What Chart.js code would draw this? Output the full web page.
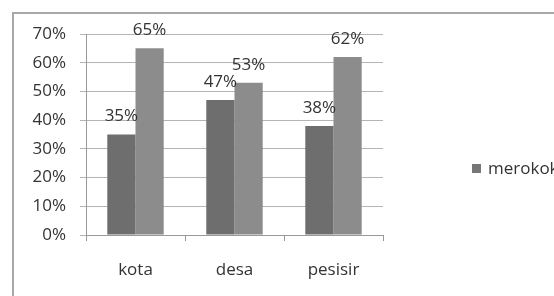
<!DOCTYPE html>
<html>
<head>
<meta charset="utf-8">
<script src="https://cdn.jsdelivr.net/npm/chart.js@4"></script>
<style>
    html, body { margin: 0; padding: 0; background: #fff; overflow: hidden; width: 554px; height: 296px; }
    #frame { position: absolute; left: 12px; top: 12px; width: 700px; height: 400px; border: 2px solid #a8a8a8; }
    #wrap { position: absolute; left: 0; top: 0; width: 620px; height: 330px; }
</style>
</head>
<body>
<div id="frame"></div>
<div id="wrap"><canvas id="chart" width="620" height="330"></canvas></div>
<script>
const categories = ['kota', 'desa', 'pesisir']
const merokok = [35, 47, 38]
const tidakMerokok = [65, 53, 62]
const yTicks = [0, 10, 20, 30, 40, 50, 60, 70]

const textColor = '#333333'
const font = { family: '"Open Sans", sans-serif', size: 17 }

// value labels above each bar
const valueLabels = {
    id: 'valueLabels',
    afterDatasetsDraw(chart) {
        const ctx = chart.ctx
        ctx.save()
        ctx.font = `${font.size}px ${font.family}`
        ctx.fillStyle = textColor
        ctx.textAlign = 'center'
        ctx.textBaseline = 'middle'
        chart.data.datasets.forEach((ds, i) => {
            chart.getDatasetMeta(i).data.forEach((bar, j) => {
                ctx.fillText(ds.data[j] + '%', bar.x, bar.y - 18)
            })
        })
        ctx.restore()
    }
}

// legend on the right, only the first series shows (cut off like the original)
const sideLegend = {
    id: 'sideLegend',
    afterDraw(chart) {
        const ctx = chart.ctx
        const ds = chart.data.datasets[0]
        const x = chart.chartArea.right + 89
        const y = 169
        ctx.save()
        ctx.fillStyle = '#777777'
        ctx.fillRect(x, y - 5, 9, 9)
        ctx.font = `${font.size}px ${font.family}`
        ctx.fillStyle = textColor
        ctx.textBaseline = 'middle'
        ctx.fillText(ds.label, x + 16, y)
        ctx.restore()
    }
}

window.addEventListener('load', () => {
    const chartEl = document.getElementById('chart')
    new Chart(chartEl, {
        type: 'bar',
        data: {
            labels: categories,
            datasets: [
                {
                    label: 'merokok',
                    data: merokok,
                    backgroundColor: '#6e6e6e'
                },
                {
                    label: 'tidak merokok',
                    data: tidakMerokok,
                    backgroundColor: '#8c8c8c'
                }
            ]
        },
        options: {
            responsive: false,
            animation: false,
            layout: {
                padding: { left: 0, top: 34, right: 237, bottom: 0 }
            },
            plugins: {
                legend: { display: false },
                tooltip: { enabled: false }
            },
            datasets: {
                bar: {
                    categoryPercentage: 0.57,
                    barPercentage: 1.0
                }
            },
            scales: {
                x: {
                    afterFit: (scale) => { scale.height = 95 },
                    grid: {
                        offset: true,
                        drawOnChartArea: false,
                        tickLength: 6,
                        color: '#999'
                    },
                    border: { color: '#999' },
                    ticks: {
                        color: textColor,
                        font: font,
                        padding: 19
                    }
                },
                y: {
                    min: 0,
                    max: 70,
                    afterFit: (scale) => { scale.width = 86 },
                    afterBuildTicks: (scale) => {
                        scale.ticks = yTicks.map(v => ({ value: v }))
                    },
                    grid: {
                        color: '#b4b4b4',
                        tickLength: 6
                    },
                    border: { color: '#999' },
                    ticks: {
                        color: textColor,
                        font: font,
                        padding: 14,
                        callback: (v) => v + '%'
                    }
                }
            }
        },
        plugins: [valueLabels, sideLegend]
    })
})
</script>
</body>
</html>
